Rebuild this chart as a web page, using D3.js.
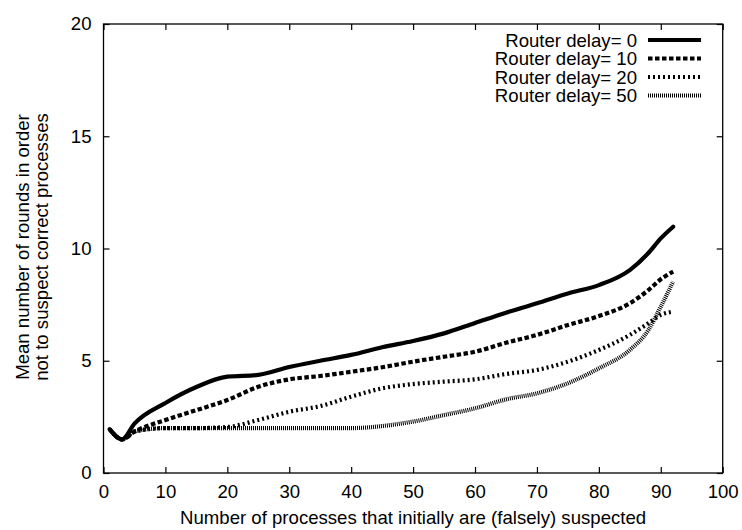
<!DOCTYPE html>
<html>
<head>
<meta charset="utf-8">
<script src="https://cdn.jsdelivr.net/npm/d3@7"></script>
<style>
  html, body { margin: 0; padding: 0; background: #fff; }
  svg { display: block; }
  text { font-family: "Liberation Sans", Arial, Helvetica, sans-serif; fill: #000; }
</style>
</head>
<body>
<svg id="chart" width="742" height="530"></svg>
<script>
// Number of initially (falsely) suspected processes
const suspected = [1, 3, 5, 10, 15, 20, 25, 30, 35, 40, 45, 50, 55, 60, 65, 70, 75, 80, 85, 88, 90, 92];

// Mean number of rounds per router delay
const delay0  = [1.95, 1.5, 2.2, 3.12, 3.83, 4.29, 4.37, 4.72, 5.0, 5.26, 5.6, 5.88, 6.22, 6.68, 7.14, 7.56, 8.0, 8.37, 9.04, 9.8, 10.45, 10.97];
const delay10 = [1.95, 1.5, 1.84, 2.36, 2.8, 3.25, 3.84, 4.17, 4.32, 4.51, 4.71, 4.96, 5.18, 5.4, 5.8, 6.15, 6.59, 6.99, 7.56, 8.15, 8.63, 8.97];
const delay20 = [1.95, 1.5, 1.85, 2.0, 2.0, 2.05, 2.36, 2.73, 2.98, 3.4, 3.77, 3.96, 4.07, 4.17, 4.41, 4.59, 4.96, 5.48, 6.15, 6.67, 7.04, 7.19];
const delay50 = [1.95, 1.5, 1.85, 2.0, 2.0, 2.0, 2.0, 2.0, 2.0, 2.0, 2.09, 2.29, 2.58, 2.88, 3.28, 3.55, 4.0, 4.66, 5.48, 6.37, 7.41, 8.52];

const seriesLabels = ["Router delay= 0", "Router delay= 10", "Router delay= 20", "Router delay= 50"];
const seriesValues = [delay0, delay10, delay20, delay50];

const xTicks = [0, 10, 20, 30, 40, 50, 60, 70, 80, 90, 100];
const yTicks = [0, 5, 10, 15, 20];

const xTitle = "Number of processes that initially are (falsely) suspected";
const yTitleLines = ["Mean number of rounds in order", "not to suspect correct processes"];

// line styles for each router delay
const styles = [
  { dash: null,      width: 4.2, cap: "round" },
  { dash: "4.5,2.5", width: 4.2, cap: "butt" },
  { dash: "2,3",     width: 4.2, cap: "butt" },
  { dash: "1,1",     width: 4.2, cap: "butt" }
];

const svg = d3.select("#chart");
const plotLeft = 103.5, plotRight = 722.7, plotTop = 24, plotBottom = 473;
const fontSize = 18.6;

const x = d3.scaleLinear().domain([0, 100]).range([plotLeft, plotRight]);
const y = d3.scaleLinear().domain([0, 20]).range([plotBottom, plotTop]);

// plot frame
svg.append("rect")
  .attr("x", plotLeft).attr("y", plotTop)
  .attr("width", plotRight - plotLeft).attr("height", plotBottom - plotTop)
  .attr("fill", "none").attr("stroke", "#000").attr("stroke-width", 1.3);

const tickLen = 6;

// x axis (labels below) and mirrored ticks on top
const xAxis = d3.axisBottom(x).tickValues(xTicks).tickSize(-tickLen).tickPadding(12).tickFormat(d3.format("d"));
const gx = svg.append("g").attr("transform", `translate(0,${plotBottom})`).call(xAxis);
gx.select(".domain").remove();
gx.selectAll("line").attr("stroke", "#000").attr("stroke-width", 1.2);
gx.selectAll("text").attr("font-size", fontSize).attr("font-family", "Liberation Sans, Arial, sans-serif").attr("fill", "#000");

const gxTop = svg.append("g").attr("transform", `translate(0,${plotTop})`)
  .call(d3.axisTop(x).tickValues(xTicks).tickSize(-tickLen).tickFormat(""));
gxTop.select(".domain").remove();
gxTop.selectAll("line").attr("stroke", "#000").attr("stroke-width", 1.2);

// y axis (labels left) and mirrored ticks on right
const yAxis = d3.axisLeft(y).tickValues(yTicks).tickSize(-tickLen).tickPadding(12).tickFormat(d3.format("d"));
const gy = svg.append("g").attr("transform", `translate(${plotLeft},0)`).call(yAxis);
gy.select(".domain").remove();
gy.selectAll("line").attr("stroke", "#000").attr("stroke-width", 1.2);
gy.selectAll("text").attr("font-size", fontSize).attr("font-family", "Liberation Sans, Arial, sans-serif").attr("fill", "#000");

const gyRight = svg.append("g").attr("transform", `translate(${plotRight},0)`)
  .call(d3.axisRight(y).tickValues(yTicks).tickSize(-tickLen).tickFormat(""));
gyRight.select(".domain").remove();
gyRight.selectAll("line").attr("stroke", "#000").attr("stroke-width", 1.2);

// axis titles
svg.append("text")
  .attr("x", (plotLeft + plotRight) / 2).attr("y", 524)
  .attr("text-anchor", "middle").attr("font-size", fontSize)
  .text(xTitle);

const yTitle = svg.append("text")
  .attr("transform", "translate(0,247) rotate(-90)")
  .attr("text-anchor", "middle").attr("font-size", fontSize);
yTitle.selectAll("tspan").data(yTitleLines).join("tspan")
  .attr("x", 0).attr("y", (d, i) => 28.5 + i * 19.5)
  .text(d => d);

// curves
const line = d3.line()
  .x((d, i) => x(suspected[i]))
  .y(d => y(d))
  .curve(d3.curveMonotoneX);

seriesValues.forEach((vals, k) => {
  const s = styles[k];
  svg.append("path")
    .datum(vals)
    .attr("d", line)
    .attr("fill", "none")
    .attr("stroke", "#000")
    .attr("stroke-width", s.width)
    .attr("stroke-linecap", s.cap)
    .attr("stroke-linejoin", "round")
    .attr("stroke-dasharray", s.dash);
});

// legend
const legendTextX = 637, sampleX0 = 648, sampleX1 = 701;
const legendY0 = 40, legendStep = 18.5;
seriesLabels.forEach((label, k) => {
  const ly = legendY0 + k * legendStep;
  svg.append("text")
    .attr("x", legendTextX).attr("y", ly)
    .attr("dy", "0.35em")
    .attr("text-anchor", "end").attr("font-size", fontSize)
    .text(label);
  const s = styles[k];
  svg.append("line")
    .attr("x1", sampleX0).attr("x2", sampleX1)
    .attr("y1", ly).attr("y2", ly)
    .attr("stroke", "#000").attr("stroke-width", s.width)
    .attr("stroke-linecap", "butt")
    .attr("stroke-dasharray", s.dash);
});
</script>
</body>
</html>
